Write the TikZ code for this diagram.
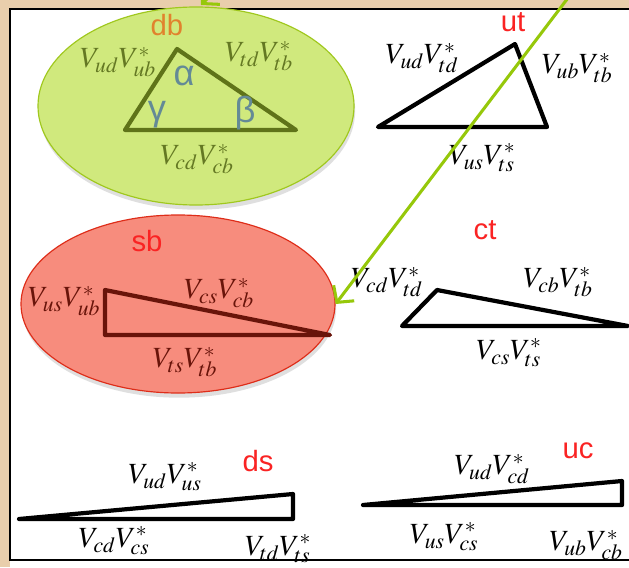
\documentclass[tikz,border=0pt]{standalone}
\usepackage{mathptmx}
\usepackage[no-math]{fontspec}
\setsansfont{Liberation Sans}
\usetikzlibrary{arrows.meta,shadows,shapes.geometric}

\definecolor{framebg}{RGB}{233,206,172}
\definecolor{dbfill}{RGB}{208,233,125}
\definecolor{dbedge}{RGB}{160,200,30}
\definecolor{dbline}{RGB}{95,115,25}
\definecolor{dbtext}{RGB}{100,120,35}
\definecolor{dbname}{RGB}{225,130,45}
\definecolor{anglecol}{RGB}{100,138,150}
\definecolor{sbfill}{RGB}{247,140,125}
\definecolor{sbedge}{RGB}{222,45,25}
\definecolor{sbline}{RGB}{105,20,10}
\definecolor{pairred}{RGB}{250,35,35}
\definecolor{hintgreen}{RGB}{150,200,10}

\tikzset{
    side/.style={line width=3.6pt, line join=round},
    ckm/.style={font=\fontsize{25}{25}\selectfont, inner sep=0pt},
    pair/.style={font=\sffamily\fontsize{25}{25}\selectfont, text=pairred, inner sep=0pt},
    ang/.style={font=\sffamily\fontsize{31}{31}\selectfont, text=anglecol, inner sep=0pt},
    hint/.style={-{Straight Barb[length=10pt,width=22pt]}, line width=2.6pt, draw=hintgreen},
    blob/.style={ellipse, line width=1pt, inner sep=0pt,
                 drop shadow={shadow xshift=1pt, shadow yshift=-4pt, opacity=0.25}},
}
\newcommand{\ckmtri}[4]{
    \draw[side, #1] (#2) -- (#3) -- (#4) -- cycle;
}

\begin{document}
\begin{tikzpicture}[x=0.03cm, y=-0.03cm]
    \useasboundingbox (0,0) rectangle (629,567);
    \clip (0,0) rectangle (629,567);
    % slide frame
    \fill[framebg] (0,0) rectangle (629,567);
    \fill[white] (10,9) rectangle (629,567);
    \draw[line width=1.2pt] (629,9) -- (10,9) -- (10,560) -- (629,560);

    % db
    \node[blob, fill=dbfill, draw=dbedge, minimum width=9.48cm, minimum height=5.94cm] (dbblob) at (196,106) {};
    \coordinate (dbA) at (125,130);
    \coordinate (dbB) at (177,49);
    \coordinate (dbC) at (296,130);
    \ckmtri{dbline}{dbA}{dbB}{dbC}
    \node[pair, text=dbname] (db) at (167,25) {db};
    \node[ckm, text=dbtext] (dbud) at (118,62) {$V_{ud}V_{ub}^{*}$};
    \node[ckm, text=dbtext] (dbtd) at (259,56) {$V_{td}V_{tb}^{*}$};
    \node[ckm, text=dbtext] (dbcd) at (197,159) {$V_{cd}V_{cb}^{*}$};
    \node[ang] (alpha) at (184,76) {α};
    \node[ang] (gamma) at (157,115) {γ};
    \node[ang] (beta) at (245,113) {β};

    % ut
    \coordinate (utA) at (378,127);
    \coordinate (utB) at (515,44);
    \coordinate (utC) at (547,127);
    \ckmtri{black}{utA}{utB}{utC}
    \node[pair] (ut) at (513,22) {ut};
    \node[ckm] (utud) at (422,58) {$V_{ud}V_{td}^{*}$};
    \node[ckm] (utub) at (577,68) {$V_{ub}V_{tb}^{*}$};
    \node[ckm] (utus) at (482,158) {$V_{us}V_{ts}^{*}$};

    % sb
    \node[blob, fill=sbfill, draw=sbedge, minimum width=9.42cm, minimum height=5.34cm] (sbblob) at (178,304) {};
    \coordinate (sbA) at (105,290);
    \coordinate (sbB) at (105,335);
    \coordinate (sbC) at (330,335);
    \ckmtri{sbline}{sbA}{sbB}{sbC}
    \node[pair] (sb) at (147,241) {sb};
    \node[ckm, text=sbline] (sbus) at (64,301) {$V_{us}V_{ub}^{*}$};
    \node[ckm, text=sbline] (sbcs) at (219,293) {$V_{cs}V_{cb}^{*}$};
    \node[ckm, text=sbline] (sbts) at (185,362) {$V_{ts}V_{tb}^{*}$};

    % ct
    \coordinate (ctA) at (402,326);
    \coordinate (ctB) at (437,290);
    \coordinate (ctC) at (628,326);
    \ckmtri{black}{ctA}{ctB}{ctC}
    \node[pair] (ct) at (485,230) {ct};
    \node[ckm] (ctcd) at (387,282) {$V_{cd}V_{td}^{*}$};
    \node[ckm] (ctcb) at (558,282) {$V_{cb}V_{tb}^{*}$};
    \node[ckm] (ctcs) at (509,353) {$V_{cs}V_{ts}^{*}$};

    % ds
    \coordinate (dsA) at (19,519);
    \coordinate (dsB) at (293,494);
    \coordinate (dsC) at (293,519);
    \ckmtri{black}{dsA}{dsB}{dsC}
    \node[pair] (ds) at (258,461) {ds};
    \node[ckm] (dsud) at (165,477) {$V_{ud}V_{us}^{*}$};
    \node[ckm] (dscd) at (114,541) {$V_{cd}V_{cs}^{*}$};
    \node[ckm] (dstd) at (278,549) {$V_{td}V_{ts}^{*}$};

    % uc
    \coordinate (ucA) at (363,505);
    \coordinate (ucB) at (622,481);
    \coordinate (ucC) at (622,505);
    \ckmtri{black}{ucA}{ucB}{ucC}
    \node[pair] (uc) at (578,451) {uc};
    \node[ckm] (ucud) at (492,469) {$V_{ud}V_{cd}^{*}$};
    \node[ckm] (ucus) at (444,537) {$V_{us}V_{cs}^{*}$};
    \node[ckm] (ucub) at (586,545) {$V_{ub}V_{cb}^{*}$};

    % green pointers
    \coordinate (hintfrom) at (574,-10);
    \draw[hint] (hintfrom) -- (sbblob.east);
    \coordinate (topfrom) at (232,-26);
    \coordinate (toptip) at (201,5);
    \draw[hint] (topfrom) -- (toptip);
\end{tikzpicture}
\end{document}
